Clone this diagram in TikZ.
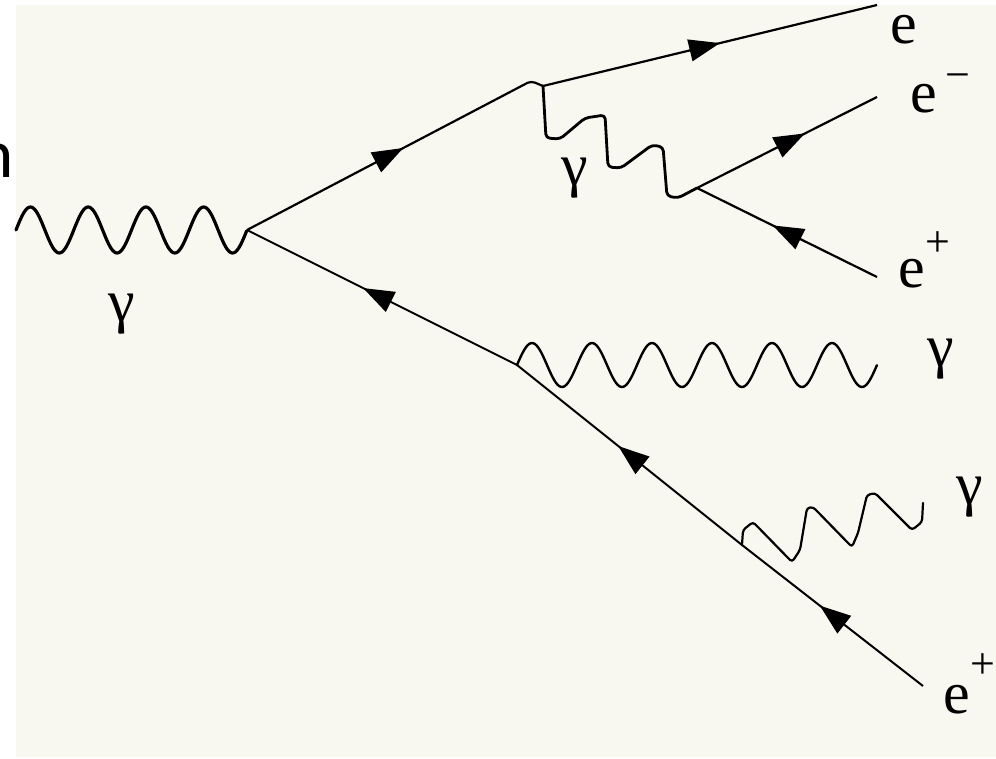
\documentclass[tikz,border=0pt]{standalone}
\usepackage{fontspec}
\setmainfont{Liberation Serif}
\usetikzlibrary{decorations.markings,arrows.meta}
\newfontfamily\slidefont{Carlito}
\definecolor{paper}{RGB}{249,248,240}
\tikzset{
  fermion/.style={line width=2.2pt, line join=round},
  photon/.style={line width=#1, line join=round, line cap=round},
  photon/.default=2.6pt,
  marr/.style={postaction={decorate,decoration={markings,
      mark=at position #1 with {\arrow{Triangle[length=31pt,width=22pt]}}}}},
  lab/.style={inner sep=0pt, font=\rmfamily\fontsize{60}{60}\selectfont},
}
\newcommand{\supsym}[2]{\raisebox{#1}{\fontsize{44}{48}\selectfont #2}}
\begin{document}
\begin{tikzpicture}[x=1pt,y=-1pt]
\useasboundingbox (0,0) rectangle (996,758);
\fill[paper] (16,5) rectangle (996,757);
% fragment of slide text at the left edge
\node[anchor=base east, inner sep=0pt, font=\slidefont\fontsize{69}{69}\selectfont] (frag) at (13.7,177) {n};
% vertices and free ends
\coordinate (L0) at (16,230);
\coordinate (V1) at (247,230);
\coordinate (H) at (531,81);
\coordinate (V2) at (543,86);
\coordinate (Ee) at (877,5);
\coordinate (V3) at (697,188);
\coordinate (Em) at (877,97);
\coordinate (Ep1) at (877,277);
\coordinate (V4) at (517,365);
\coordinate (G3) at (877,365);
\coordinate (V5) at (742,545);
\coordinate (G4) at (923,503);
\coordinate (Ep2) at (923,686);
% incoming photon (L0 to V1)
\draw[photon=3.2pt] plot[domain=0:1, samples=161, smooth] ({16+231*\x},{230-23*sin(1440*\x)});
% upper branch
\draw[fermion, marr=0.53, rounded corners=4pt] (V1) -- (H) -- (V2);
\draw[fermion, marr=0.53] (V2) -- (Ee);
\draw[photon=2.8pt, rounded corners=4pt] (V2) -- (546,138) -- (560,139) -- (585,118) -- (605,115) -- (608,167) -- (621,168) -- (652,145) -- (663,147) -- (667,196) -- (678,198) -- (V3);
\draw[fermion, marr=0.6] (V3) -- (Em);
\draw[fermion, marr=0.58] (Ep1) -- (V3);
% lower branch
\draw[fermion, line width=2pt, marr=0.57] (V4) -- (V1);
% photon V4 to G3
\draw[photon=2.4pt] plot[domain=0:1, samples=241, smooth] ({517+360*\x},{365-22*sin(2160*\x)});
\draw[fermion, line width=2pt, marr=0.55] (V5) -- (V4);
\draw[fermion, line width=2pt, marr=0.57] (Ep2) -- (V5);
\draw[photon=2.2pt, rounded corners=3pt] (V5) -- (743,530) -- (753,522) -- (792,562) -- (800,550) -- (807,508) -- (813,507) -- (852,547) -- (858,533) -- (867,495) -- (875,493) -- (912,530) -- (922,522) -- (G4);
% labels
\node[lab] (g1) at (122,314) {γ};
\node[lab] (g2) at (575,178) {γ};
\node[lab] (g3) at (941,359) {γ};
\node[lab] (g4) at (970,497) {γ};
\node[lab, anchor=base west] (le) at (890.5,43) {e};
\node[lab, anchor=base west] (lem) at (910.5,112) {e\kern8pt\supsym{23pt}{−}};
\node[lab, anchor=base west] (lep1) at (898.5,287) {e\supsym{31pt}{+}};
\node[lab, anchor=base west] (lep2) at (943.5,713) {e\supsym{35pt}{+}};
\end{tikzpicture}
\end{document}
